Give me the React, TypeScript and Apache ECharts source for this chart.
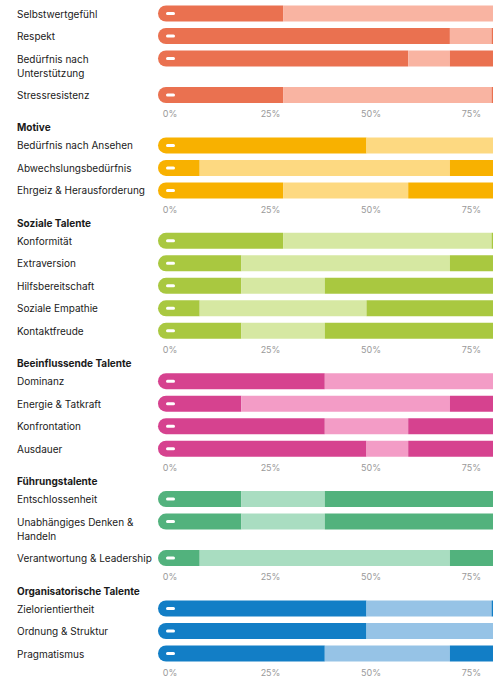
import React, { useEffect, useRef } from 'react';
import * as echarts from 'echarts';

// Scale of the bars (segments of 1 up to 10) and the visible percent tick labels
const SCALE_MAX = 10;
const pctTicks = [0, 25, 50, 75];

const emotionLabels = ['Selbstwertgefühl', 'Respekt', 'Bedürfnis nach\nUnterstützung', 'Stressresistenz'];
const emotionLow = [3, 7, 6, 3];
const emotionHigh = [9, 8, 7, 8];

const motiveLabels = ['Bedürfnis nach Ansehen', 'Abwechslungsbedürfnis', 'Ehrgeiz & Herausforderung'];
const motiveLow = [5, 1, 3];
const motiveHigh = [9, 7, 6];

const socialLabels = ['Konformität', 'Extraversion', 'Hilfsbereitschaft', 'Soziale Empathie', 'Kontaktfreude'];
const socialLow = [3, 2, 2, 1, 2];
const socialHigh = [8, 7, 4, 5, 4];

const influenceLabels = ['Dominanz', 'Energie & Tatkraft', 'Konfrontation', 'Ausdauer'];
const influenceLow = [4, 2, 4, 5];
const influenceHigh = [9, 7, 6, 6];

const leadLabels = ['Entschlossenheit', 'Unabhängiges Denken &\nHandeln', 'Verantwortung & Leadership'];
const leadLow = [2, 2, 1];
const leadHigh = [4, 4, 7];

const orgLabels = ['Zielorientiertheit', 'Ordnung & Struktur', 'Pragmatismus'];
const orgLow = [5, 5, 4];
const orgHigh = [8, 9, 7];

const sections = [
  { title: '', labels: emotionLabels, low: emotionLow, high: emotionHigh, dark: '#EA7150', light: '#F9B4A2' },
  { title: 'Motive', labels: motiveLabels, low: motiveLow, high: motiveHigh, dark: '#F8B100', light: '#FDD981' },
  { title: 'Soziale Talente', labels: socialLabels, low: socialLow, high: socialHigh, dark: '#A9C840', light: '#D6E8A2' },
  { title: 'Beeinflussende Talente', labels: influenceLabels, low: influenceLow, high: influenceHigh, dark: '#D6428F', light: '#F39CC6' },
  { title: 'Führungstalente', labels: leadLabels, low: leadLow, high: leadHigh, dark: '#52B27D', light: '#A9DDC1' },
  { title: 'Organisatorische Talente', labels: orgLabels, low: orgLow, high: orgHigh, dark: '#127EC6', light: '#96C3E6' },
];

const FONT = 'Inter, Roboto, sans-serif';
const GRID_LEFT = 158;
const GRID_WIDTH = 417;
const LABEL_X = 17;
const FIRST_ROW = 13.5;
const STEP = 22.5;
const EXTRA = 14;
const AXIS_GAP = 18.2;
const A2H = 14.2;
const H2R = 18;

function buildOption() {
  const grid: any[] = [];
  const xAxis: any[] = [];
  const yAxis: any[] = [];
  const series: any[] = [];
  const graphic: any[] = [];
  let cy = FIRST_ROW;
  let axisY = 0;
  sections.forEach((sec, si) => {
    if (si > 0) {
      const headY = axisY + A2H;
      graphic.push({
        type: 'text',
        x: LABEL_X,
        y: headY,
        style: { text: sec.title, fill: '#1a1a1a', font: `bold 10px ${FONT}`, verticalAlign: 'middle', align: 'left' },
      });
      cy = headY + H2R;
    }
    sec.labels.forEach((lab, ri) => {
      const isLast = ri === sec.labels.length - 1;
      const gi = grid.length;
      grid.push({ left: GRID_LEFT, width: GRID_WIDTH, top: cy - STEP / 2, height: STEP });
      xAxis.push({ gridIndex: gi, type: 'value', min: 0, max: SCALE_MAX, show: false });
      xAxis.push({
        gridIndex: gi,
        type: 'value',
        min: -3,
        max: 100.75,
        show: isLast,
        position: 'bottom',
        axisLine: { show: false },
        axisTick: { show: false },
        splitLine: { show: false },
        axisLabel: {
          customValues: pctTicks,
          formatter: '{value}%',
          color: '#9a9a9a',
          fontSize: 9,
          fontFamily: FONT,
          margin: 3,
        },
      });
      yAxis.push({
        gridIndex: gi,
        type: 'category',
        data: [lab],
        axisLine: { show: false },
        axisTick: { show: false },
        splitLine: { show: false },
        axisLabel: {
          interval: 0,
          align: 'left',
          margin: GRID_LEFT - LABEL_X,
          color: '#1a1a1a',
          fontSize: 10,
          fontFamily: FONT,
          lineHeight: 14,
          formatter: (v: string) => (v.includes('\n') ? '\n' + v : v),
        },
      });
      const lo = sec.low[ri];
      const hi = sec.high[ri];
      const common = { type: 'bar', xAxisIndex: 2 * gi, yAxisIndex: gi, stack: 'r' + gi, barWidth: 16, silent: true };
      series.push({
        ...common,
        data: [lo],
        itemStyle: { color: sec.dark, borderRadius: [8, 0, 0, 8] },
        label: {
          show: true,
          position: 'insideLeft',
          distance: 8,
          formatter: '{d|}',
          rich: { d: { width: 9, height: 3, backgroundColor: '#ffffff', borderRadius: 1.5 } },
        },
      });
      series.push({ ...common, data: [hi - lo], itemStyle: { color: sec.light } });
      series.push({ ...common, data: [SCALE_MAX - hi], itemStyle: { color: sec.dark, borderRadius: [0, 8, 8, 0] } });
      if (isLast) axisY = cy + AXIS_GAP;
      cy += STEP + (lab.includes('\n') ? EXTRA : 0);
    });
  });
  return { animation: false, grid, xAxis, yAxis, series, graphic };
}

export default function App() {
  const ref = useRef<HTMLDivElement>(null);
  useEffect(() => {
    if (!ref.current) return;
    const chart = echarts.init(ref.current, undefined, { renderer: 'svg' });
    chart.setOption(buildOption() as any);
    return () => chart.dispose();
  }, []);
  return (
    <div
      ref={ref}
      style={{ position: 'fixed', left: 0, top: 0, width: 600, height: 677, background: '#fff' }}
    />
  );
}
